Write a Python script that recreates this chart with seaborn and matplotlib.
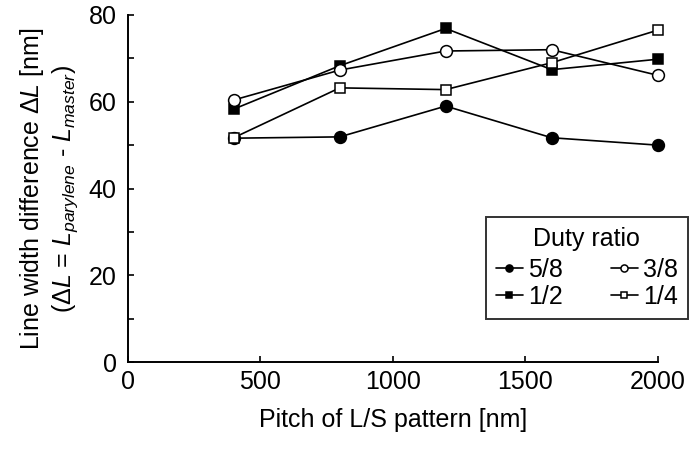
import matplotlib
matplotlib.use("Agg")
import matplotlib.pyplot as plt
import seaborn as sns
import pandas as pd
from matplotlib.ticker import MultipleLocator

pitch = [400, 800, 1200, 1600, 2000]
duty_labels = ["5/8", "1/2", "3/8", "1/4"]
dl_5_8 = [51.6, 51.9, 59.0, 51.7, 50.0]
dl_1_2 = [58.3, 68.3, 76.9, 67.4, 69.8]
dl_3_8 = [60.4, 67.3, 71.7, 72.0, 66.1]
dl_1_4 = [51.7, 63.2, 62.8, 69.0, 76.5]

sns.set_theme(style="ticks")
plt.rcParams['font.family'] = ['Liberation Sans', 'DejaVu Sans']
plt.rcParams['mathtext.fontset'] = 'custom'
plt.rcParams['mathtext.rm'] = 'Liberation Sans'
plt.rcParams['mathtext.it'] = 'Liberation Sans:italic'
plt.rcParams['mathtext.bf'] = 'Liberation Sans:bold'
for k in ['text.color', 'axes.labelcolor', 'xtick.color', 'ytick.color', 'axes.edgecolor']:
    plt.rcParams[k] = 'black'

FS = 18
fig = plt.figure(figsize=(6.93, 4.5), dpi=100)
ax = fig.add_axes([127.7 / 693, 1 - 362 / 450, 530 / 693, 347 / 450])

series = [dl_5_8, dl_1_2, dl_3_8, dl_1_4]
markers = ["o", "s", "o", "s"]
faces = ["black", "black", "white", "white"]
for lab, vals, m, fc in zip(duty_labels, series, markers, faces):
    df = pd.DataFrame({"pitch": pitch, "dl": vals})
    sns.lineplot(data=df, x="pitch", y="dl", ax=ax, color="black", lw=1.2,
                 marker=m, markersize=8.5 if m == "o" else 7.5,
                 markerfacecolor=fc, markeredgecolor="black", markeredgewidth=1.1,
                 label=lab, clip_on=False, zorder=3)

ax.set_xlim(0, 2000)
ax.set_ylim(0, 80)
ax.set_xticks([0, 500, 1000, 1500, 2000])
ax.set_yticks([0, 20, 40, 60, 80])
ax.yaxis.set_minor_locator(MultipleLocator(10))
ax.tick_params(axis="both", which="both", direction="in", labelsize=FS)
ax.tick_params(axis="both", which="major", length=4, width=1.2)
ax.tick_params(axis="x", which="major", pad=6)
ax.tick_params(axis="y", which="major", pad=8)
ax.tick_params(axis="y", which="minor", length=4, width=1.2)
for s in ["top", "right"]:
    ax.spines[s].set_visible(False)
for s in ["left", "bottom"]:
    ax.spines[s].set_linewidth(1.4)

ax.set_xlabel("Pitch of L/S pattern [nm]", fontsize=FS, labelpad=10)
ax.set_ylabel("Line width difference $\\mathit{ΔL}$ [nm]\n"
              "($\\mathit{ΔL}$ = $\\mathit{L}_{\\mathit{parylene}}$ - $\\mathit{L}_{\\mathit{master}}$)",
              fontsize=FS, labelpad=6, linespacing=1.2)

leg = ax.legend(title="Duty ratio", ncol=2, loc="upper right",
                bbox_to_anchor=(688 / 693, 1 - 217 / 450), bbox_transform=fig.transFigure,
                fontsize=FS, title_fontsize=FS,
                frameon=True, fancybox=False, edgecolor="black",
                handlelength=1.1, handletextpad=0.2, columnspacing=1.9,
                labelspacing=0.12, borderpad=0.4, markerscale=0.6, borderaxespad=0)
leg.get_frame().set_linewidth(1.4)
leg._legend_box.sep = 5

fig.savefig("out.png", dpi=100)
